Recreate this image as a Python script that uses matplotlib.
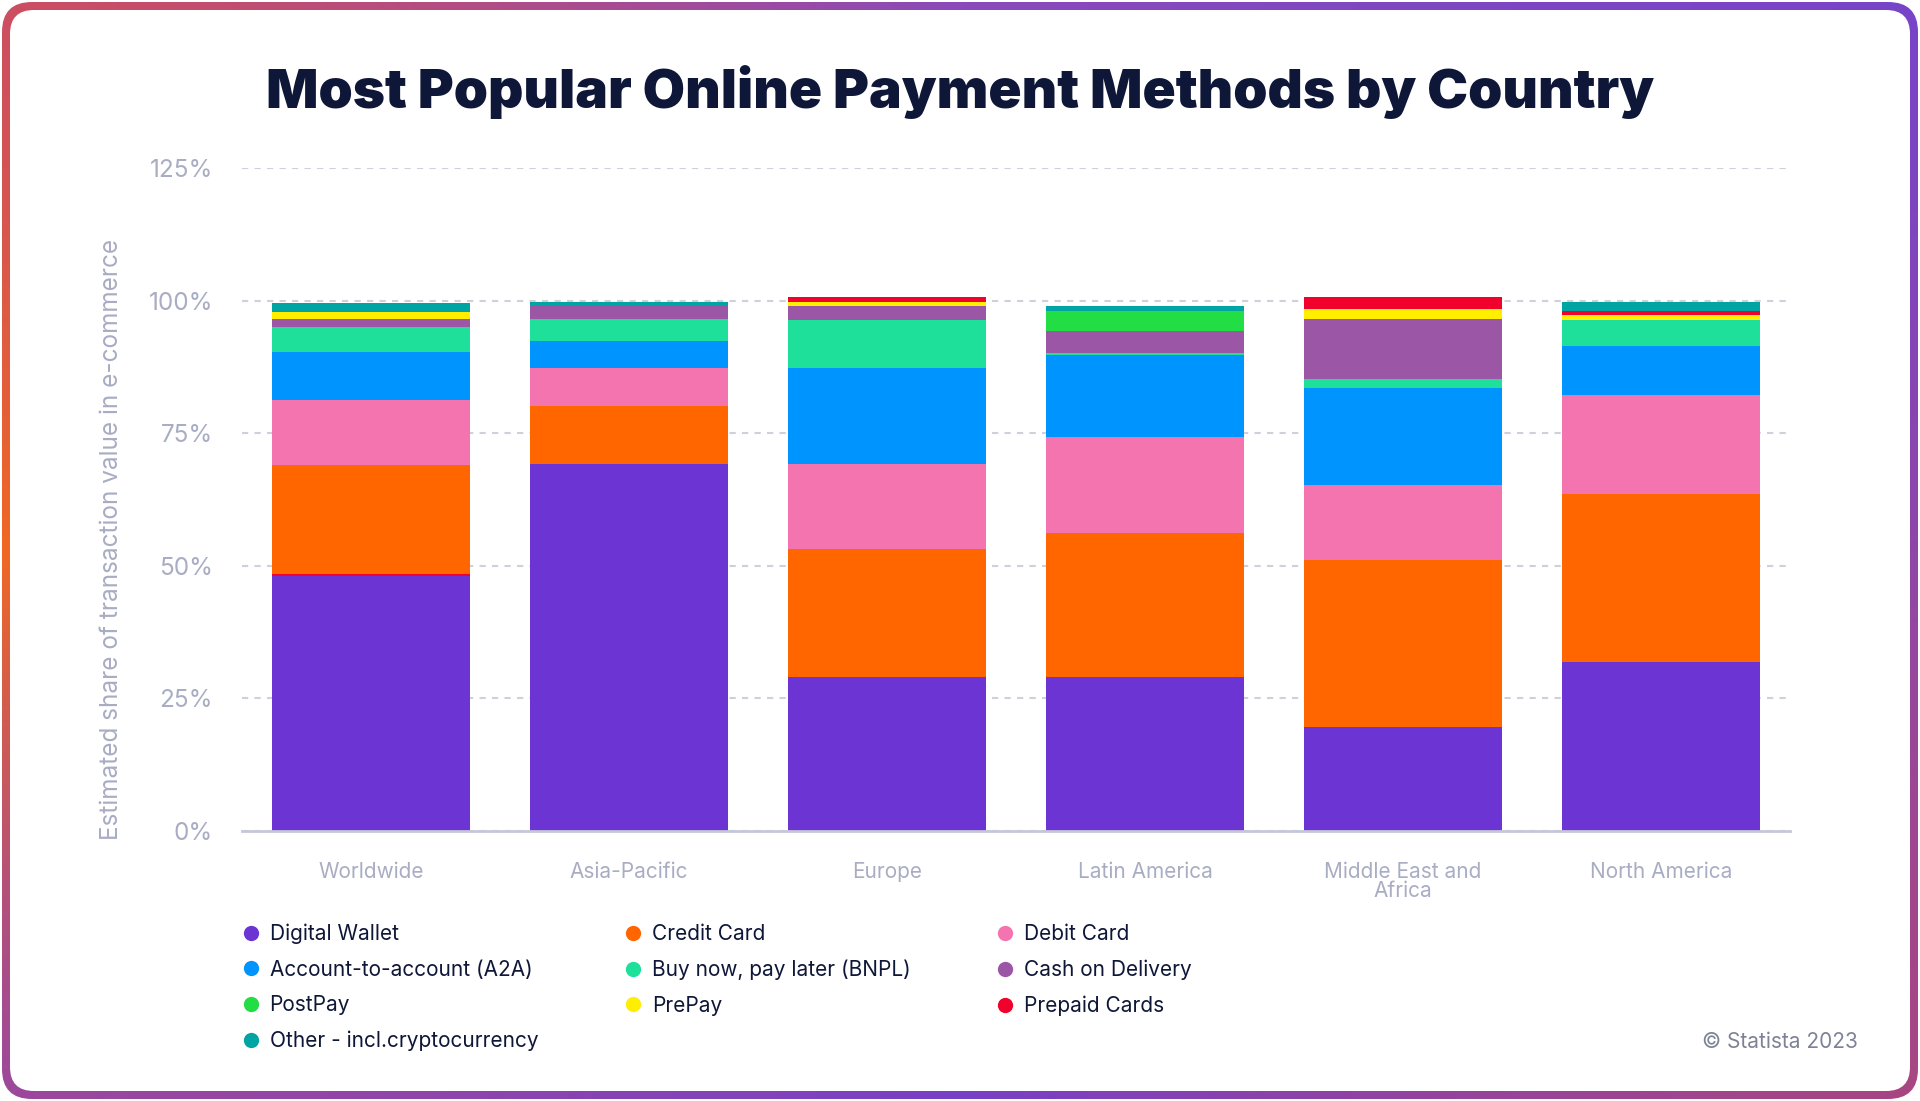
import numpy as np
import matplotlib
matplotlib.use("Agg")
import matplotlib.pyplot as plt
from matplotlib.patches import FancyBboxPatch
from matplotlib.lines import Line2D

plt.rcParams['font.family'] = ['Inter', 'DejaVu Sans']

categories = ["Worldwide", "Asia-Pacific", "Europe", "Latin America",
              "Middle East and\nAfrica", "North America"]

# estimated share of transaction value, %
digital_wallet = [48.1, 69.1, 29.0, 29.0, 19.7, 31.9]
credit_card = [20.5, 11.0, 24.1, 27.2, 31.4, 31.6]
debit_card = [12.3, 7.2, 16.0, 18.0, 14.2, 18.7]
account_to_account = [9.1, 5.0, 18.1, 15.5, 18.2, 9.2]
bnpl = [4.6, 4.2, 9.2, 0.4, 1.7, 5.0]
cash_on_delivery = [1.6, 2.5, 2.5, 4.2, 11.3, 0.0]
postpay = [0.0, 0.0, 0.0, 3.7, 0.0, 0.0]
prepay = [1.3, 0.0, 0.9, 0.0, 2.0, 0.9]
prepaid_cards = [0.4, 0.0, 0.8, 0.0, 2.1, 0.8]
other = [1.7, 0.8, 0.0, 0.9, 0.0, 1.6]

series = [
    ("Digital Wallet", digital_wallet, "#6c35d3"),
    ("Credit Card", credit_card, "#ff6600"),
    ("Debit Card", debit_card, "#f374ae"),
    ("Account-to-account (A2A)", account_to_account, "#0094ff"),
    ("Buy now, pay later (BNPL)", bnpl, "#1ee09a"),
    ("Cash on Delivery", cash_on_delivery, "#9b57a5"),
    ("PostPay", postpay, "#22dd44"),
    ("PrePay", prepay, "#ffee00"),
    ("Prepaid Cards", prepaid_cards, "#f0022c"),
    ("Other - incl.cryptocurrency", other, "#00a4a2"),
]

# stacking order; in the Worldwide bar the prepaid sliver sits right on top of the wallet
default_order = list(range(len(series)))
worldwide_order = [0, 8, 1, 2, 3, 4, 5, 6, 7, 9]
stack_orders = [worldwide_order] + [default_order] * (len(categories) - 1)

W, H = 1920, 1101
fig = plt.figure(figsize=(W / 100, H / 100), dpi=100)

# gradient frame with rounded corners
bg = fig.add_axes([0, 0, 1, 1])
bg.set_xlim(0, W)
bg.set_ylim(0, H)
bg.axis("off")
yy, xx = np.mgrid[0:H:4, 0:W:4]
ang = np.degrees(np.arctan2((yy - H / 2) / H, (xx - W / 2) / W))
stops_a = [-180, -135, -90, -45, 0, 45, 90, 135, 180]
stops_c = np.array([
    [0xf0, 0x68, 0x22], [0xcc, 0x4e, 0x62], [0x8a, 0x4a, 0xba], [0x78, 0x44, 0xc8],
    [0x90, 0x46, 0xa8], [0xa8, 0x46, 0x82], [0x78, 0x40, 0xc6], [0x9c, 0x48, 0x9c],
    [0xf0, 0x68, 0x22]]) / 255.0
img = np.stack([np.interp(ang, stops_a, stops_c[:, k]) for k in range(3)], axis=-1)
im = bg.imshow(img, extent=[0, W, H, 0], origin="upper", aspect="auto")
outer = FancyBboxPatch((2, 2), W - 4, H - 4, boxstyle="round,pad=0,rounding_size=30",
                       transform=bg.transData, facecolor="none", edgecolor="none")
bg.add_patch(outer)
im.set_clip_path(outer)
bg.set_ylim(H, 0)
inner = FancyBboxPatch((10, 10), W - 20, H - 20, boxstyle="round,pad=0,rounding_size=24",
                       facecolor="white", edgecolor="none")
bg.add_patch(inner)

ax = fig.add_axes([242 / W, 1 - 831 / H, (1790 - 242) / W, (831 - 168) / H])
ax.set_facecolor("none")
x = np.arange(len(categories))
for i, order in enumerate(stack_orders):
    bottom = 0.0
    for k in order:
        name, vals, col = series[k]
        v = vals[i]
        if v > 0:
            ax.bar(x[i], v, bottom=bottom, width=0.767, color=col, linewidth=0, zorder=2)
        bottom += v

ax.set_xlim(-0.5, len(categories) - 0.5)
ax.set_ylim(0, 125)
ax.set_yticks([0, 25, 50, 75, 100, 125])
ax.set_yticklabels([f"{t}%" for t in [0, 25, 50, 75, 100, 125]])
ax.set_xticks(x)
ax.set_xticklabels(categories, linespacing=0.95)
grey = "#a8adc4"
ax.tick_params(axis="y", length=0, pad=21, labelsize=17.5, labelcolor=grey)
ax.tick_params(axis="x", length=0, pad=22, labelsize=15, labelcolor=grey)
ax.grid(axis="y", color="#cfd0dc", linestyle=(0, (3, 3)), linewidth=1.5, zorder=0)
for s in ["top", "right", "left"]:
    ax.spines[s].set_visible(False)
ax.spines["bottom"].set_color("#c5c8d8")
ax.spines["bottom"].set_linewidth(2)
ax.spines["bottom"].set_zorder(3)
ax.set_ylabel("Estimated share of transaction value in e-commerce", fontsize=17.5,
              color=grey)
ax.yaxis.set_label_coords((123 - 242) / (1790 - 242), (831 - 539) / (831 - 168))

fig.text(0.5, 1 - 92 / H, "Most Popular Online Payment Methods by Country",
         ha="center", va="center", fontsize=39.5, fontweight="black", color="#0f1738")

# legend: columns fill top to bottom
legend_idx = [0, 3, 6, 9, 1, 4, 7, 2, 5, 8]
handles = [Line2D([], [], linestyle="none", marker="o", markersize=11,
                  markerfacecolor=series[k][2], markeredgecolor="none") for k in legend_idx]
labels = [series[k][0] for k in legend_idx]
fig.legend(handles, labels, loc="upper left", bbox_to_anchor=(230 / W, 1 - 913 / H),
           ncol=3, frameon=False, fontsize=15, handlelength=1.0, handletextpad=0.4,
           columnspacing=4.05, labelspacing=0.75, borderpad=0, labelcolor="#0f1738")

fig.text(1858 / W, 1 - 1042 / H, "\u00a9 Statista 2023", ha="right", va="center",
         fontsize=15, color="#7d8396")

fig.savefig("out.png", dpi=100)
